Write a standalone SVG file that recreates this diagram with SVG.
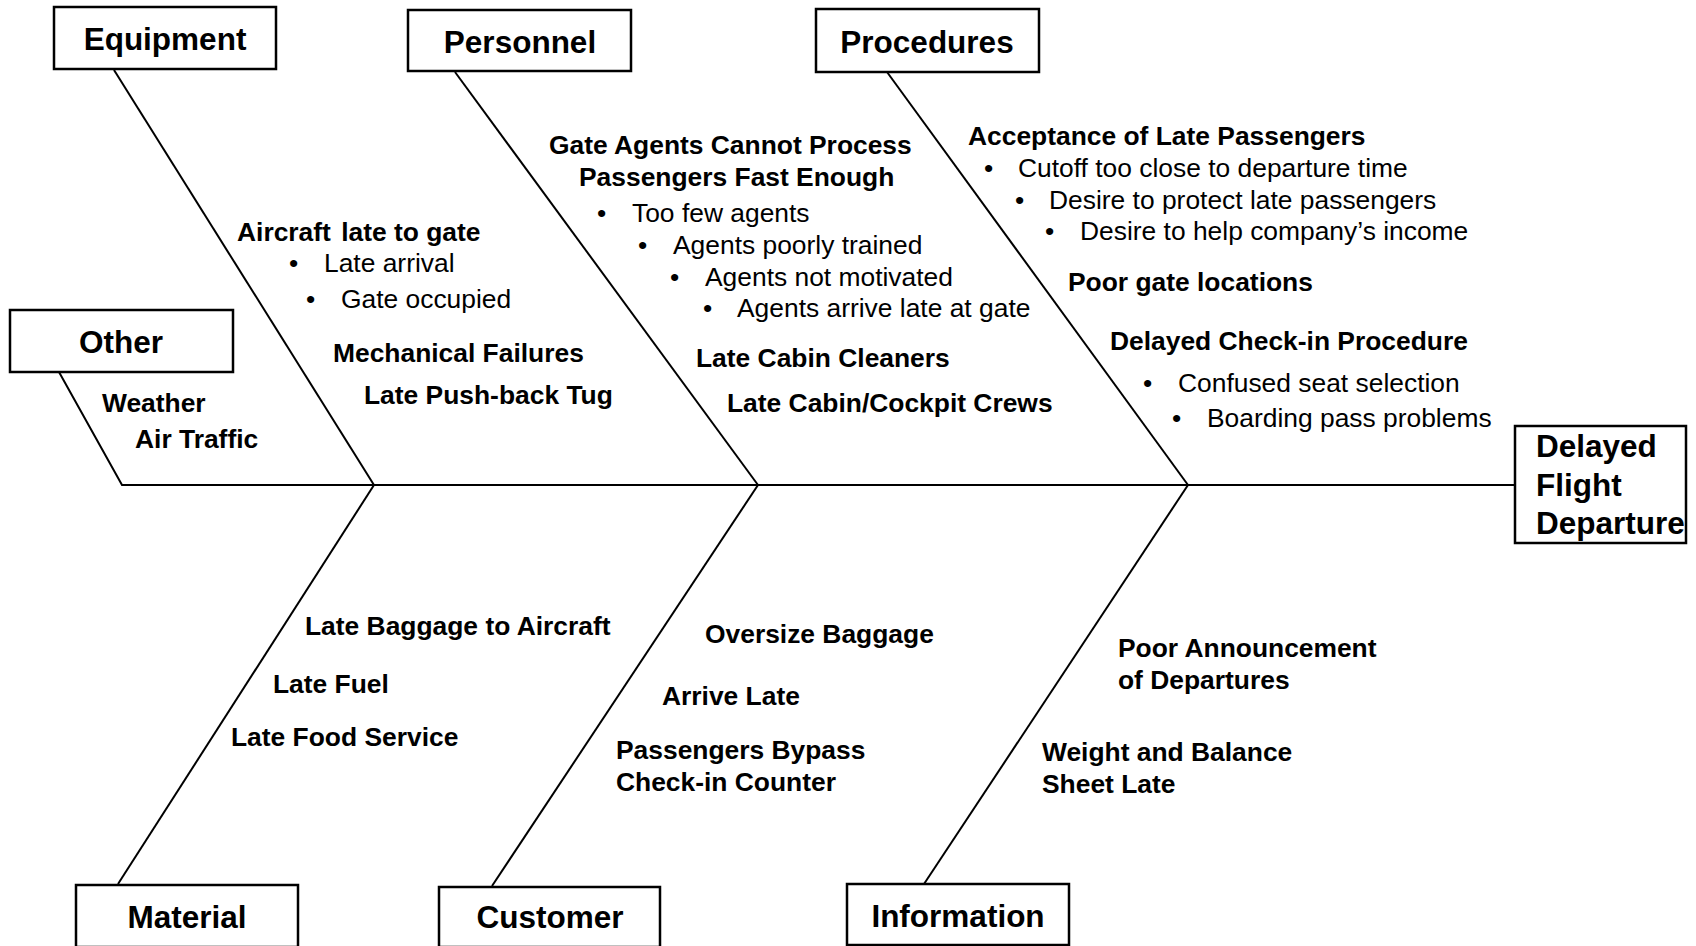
<svg xmlns="http://www.w3.org/2000/svg" width="1696" height="946" viewBox="0 0 1696 946">
<style>
.box{fill:#fff;stroke:#000;stroke-width:2.5}
.ttl{font-family:"Liberation Sans",Arial,sans-serif;font-weight:bold;font-size:31.5px;fill:#000;text-anchor:middle}
.eff{font-family:"Liberation Sans",Arial,sans-serif;font-weight:bold;font-size:31.5px;fill:#000}
.b{font-family:"Liberation Sans",Arial,sans-serif;font-weight:bold;font-size:26.4px;fill:#000}
.r{font-family:"Liberation Sans",Arial,sans-serif;font-size:26.4px;fill:#000}
.ln{fill:none;stroke:#000;stroke-width:2}
</style>
<rect width="1696" height="946" fill="#fff"/>
<g id="connectors">
<path class="ln" d="M59,372 L122,485 L1515,485"/>
<path class="ln" d="M114,70 L374,485"/>
<path class="ln" d="M455,72 L758,485"/>
<path class="ln" d="M887,72 L1188,485"/>
<path class="ln" d="M374,485 L118,884"/>
<path class="ln" d="M758,485 L492,886"/>
<path class="ln" d="M1188,485 L924,884"/>
</g>
<g id="equipment">
<rect class="box" x="54" y="7" width="222" height="62"/>
<text class="ttl" x="165" y="50">Equipment</text>
</g>
<g id="personnel">
<rect class="box" x="408" y="10" width="223" height="61"/>
<text class="ttl" x="520" y="53">Personnel</text>
</g>
<g id="procedures">
<rect class="box" x="816" y="9" width="223" height="63"/>
<text class="ttl" x="927" y="53">Procedures</text>
</g>
<g id="other">
<rect class="box" x="10" y="310" width="223" height="62"/>
<text class="ttl" x="121" y="353">Other</text>
</g>
<g id="material">
<rect class="box" x="76" y="885" width="222" height="62"/>
<text class="ttl" x="187" y="928">Material</text>
</g>
<g id="customer">
<rect class="box" x="439" y="887" width="221" height="60"/>
<text class="ttl" x="550" y="928">Customer</text>
</g>
<g id="information">
<rect class="box" x="847" y="884" width="222" height="61"/>
<text class="ttl" x="958" y="927">Information</text>
</g>
<g id="effect">
<rect class="box" x="1515" y="426" width="171" height="117"/>
<text class="eff" x="1536" y="457">Delayed</text>
<text class="eff" x="1536" y="496">Flight</text>
<text class="eff" x="1536" y="534">Departure</text>
</g>
<g id="equipment-causes">
<text class="b" x="237" y="241">Aircraft <tspan dx="3">late to gate</tspan></text>
<text class="r" x="289" y="272">•</text><text class="r" x="324" y="272">Late arrival</text>
<text class="r" x="306" y="308">•</text><text class="r" x="341" y="308">Gate occupied</text>
<text class="b" x="333" y="362">Mechanical Failures</text>
<text class="b" x="364" y="404">Late Push-back Tug</text>
</g>
<g id="other-causes">
<text class="b" x="102" y="412">Weather</text>
<text class="b" x="135" y="448">Air Traffic</text>
</g>
<g id="personnel-causes">
<text class="b" x="549" y="154">Gate Agents Cannot Process</text>
<text class="b" x="579" y="186">Passengers Fast Enough</text>
<text class="r" x="597" y="222">•</text><text class="r" x="632" y="222">Too few agents</text>
<text class="r" x="638" y="254">•</text><text class="r" x="673" y="254">Agents poorly trained</text>
<text class="r" x="670" y="286">•</text><text class="r" x="705" y="286">Agents not motivated</text>
<text class="r" x="703" y="317">•</text><text class="r" x="737" y="317">Agents arrive late at gate</text>
<text class="b" x="696" y="367">Late Cabin Cleaners</text>
<text class="b" x="727" y="412">Late Cabin/Cockpit Crews</text>
</g>
<g id="procedures-causes">
<text class="b" x="968" y="145">Acceptance of Late Passengers</text>
<text class="r" x="984" y="177">•</text><text class="r" x="1018" y="177">Cutoff too close to departure time</text>
<text class="r" x="1015" y="209">•</text><text class="r" x="1049" y="209">Desire to protect late passengers</text>
<text class="r" x="1045" y="240">•</text><text class="r" x="1080" y="240">Desire to help company’s income</text>
<text class="b" x="1068" y="291">Poor gate locations</text>
<text class="b" x="1110" y="350">Delayed Check-in Procedure</text>
<text class="r" x="1143" y="392">•</text><text class="r" x="1178" y="392">Confused seat selection</text>
<text class="r" x="1172" y="427">•</text><text class="r" x="1207" y="427">Boarding pass problems</text>
</g>
<g id="material-causes">
<text class="b" x="305" y="635">Late Baggage to Aircraft</text>
<text class="b" x="273" y="693">Late Fuel</text>
<text class="b" x="231" y="746">Late Food Service</text>
</g>
<g id="customer-causes">
<text class="b" x="705" y="643">Oversize Baggage</text>
<text class="b" x="662" y="705">Arrive Late</text>
<text class="b" x="616" y="759">Passengers Bypass</text>
<text class="b" x="616" y="791">Check-in Counter</text>
</g>
<g id="information-causes">
<text class="b" x="1118" y="657">Poor Announcement</text>
<text class="b" x="1118" y="689">of Departures</text>
<text class="b" x="1042" y="761">Weight and Balance</text>
<text class="b" x="1042" y="793">Sheet Late</text>
</g>
</svg>
